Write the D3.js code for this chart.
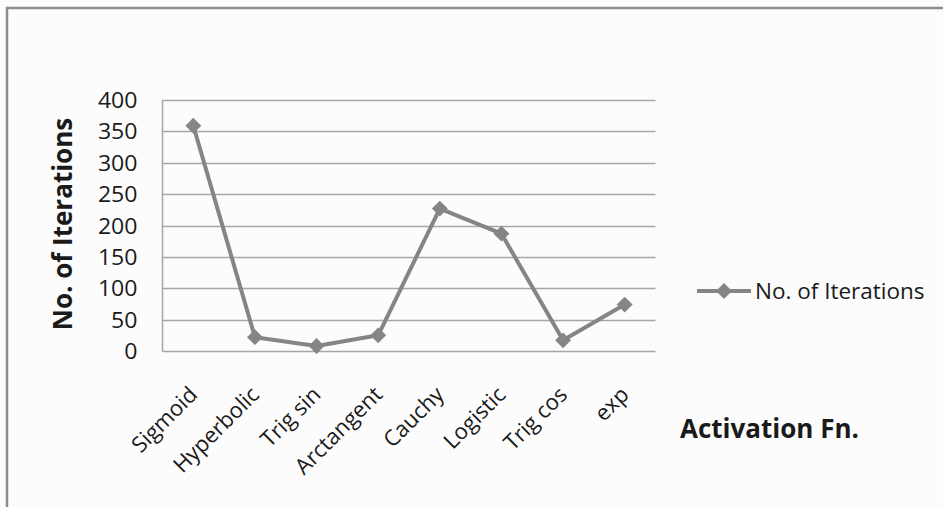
<!DOCTYPE html>
<html>
<head>
<meta charset="utf-8">
<script src="https://cdn.jsdelivr.net/npm/d3@7/dist/d3.min.js"></script>
<style>
  html, body { margin: 0; padding: 0; background: #fcfcfc; }
  svg { display: block; }
  text { font-family: "Open Sans", "Noto Sans", sans-serif; fill: #1a1a1a; }
</style>
</head>
<body>
<svg id="chart" width="943" height="507"></svg>
<script>
// Activation functions and the iterations each one needed
const categories = ["Sigmoid", "Hyperbolic", "Trig sin", "Arctangent", "Cauchy", "Logistic", "Trig cos", "exp"];
const iterations = [359, 22, 8, 25, 227, 187, 17, 74];
const yTicks = [0, 50, 100, 150, 200, 250, 300, 350, 400];
const seriesName = "No. of Iterations";
const yTitle = "No. of Iterations";
const xTitle = "Activation Fn.";

const svg = d3.select("#chart");
const W = 943, H = 507;
const plot = { left: 162.5, right: 655.5, top: 100, bottom: 351 };

svg.append("rect").attr("width", W).attr("height", H).attr("fill", "#fcfcfc");

// outer frame (top and left edges)
svg.append("path")
  .attr("d", `M7,${H} V8 H${W}`)
  .attr("fill", "none").attr("stroke", "#8c8c8c").attr("stroke-width", 2.5);

const x = d3.scalePoint().domain(categories).range([plot.left, plot.right]).padding(0.5);
const y = d3.scaleLinear().domain([0, 400]).range([plot.bottom, plot.top]);

// horizontal gridlines
svg.append("g").selectAll("line").data(yTicks).join("line")
  .attr("x1", plot.left).attr("x2", plot.right)
  .attr("y1", d => Math.round(y(d)) + 0.5).attr("y2", d => Math.round(y(d)) + 0.5)
  .attr("stroke", "#a6a6a6").attr("stroke-width", 1.5);

// left axis line
svg.append("line")
  .attr("x1", plot.left).attr("x2", plot.left)
  .attr("y1", plot.top).attr("y2", plot.bottom + 0.5)
  .attr("stroke", "#a6a6a6").attr("stroke-width", 1.5);

// y tick labels
const yAxis = d3.axisLeft(y).tickValues(yTicks).tickSize(0);
const gy = svg.append("g").attr("transform", `translate(${plot.left},0)`).call(yAxis);
gy.select(".domain").remove();
gy.selectAll("text")
  .attr("font-family", "Open Sans").attr("font-size", 21).attr("fill", "#1a1a1a")
  .attr("x", 0).attr("dy", "0.36em")
  .attr("transform", "translate(-25,0) scale(1.1,1)");

// x tick labels, rotated
const xAxis = d3.axisBottom(x).tickSize(0).tickPadding(0);
const gx = svg.append("g").attr("transform", `translate(0,${plot.bottom})`).call(xAxis);
gx.select(".domain").remove();
gx.selectAll("text")
  .attr("font-family", "Open Sans").attr("font-size", 22).attr("fill", "#1a1a1a")
  .attr("text-anchor", "end")
  .attr("dy", null).attr("y", null)
  .attr("transform", "translate(5,45) rotate(-45)");

// series line
const line = d3.line().x((d, i) => x(categories[i])).y(d => y(d));
svg.append("path").datum(iterations)
  .attr("d", line).attr("fill", "none")
  .attr("stroke", "#858585").attr("stroke-width", 4).attr("stroke-linejoin", "round");

// diamond markers
const diamond = d3.symbol().type(d3.symbolDiamond2).size(160);
svg.append("g").selectAll("path").data(iterations).join("path")
  .attr("d", diamond)
  .attr("transform", (d, i) => `translate(${x(categories[i])},${y(d)})`)
  .attr("fill", "#858585");

// axis titles
svg.append("text")
  .attr("transform", `translate(72,224) rotate(-90)`)
  .attr("text-anchor", "middle")
  .attr("font-size", 26).attr("font-weight", "bold")
  .text(yTitle);

svg.append("text")
  .attr("x", 680).attr("y", 438)
  .attr("font-size", 26).attr("font-weight", "bold")
  .text(xTitle);

// legend
const lg = svg.append("g").attr("transform", "translate(697,291)");
lg.append("line").attr("x1", 0).attr("x2", 54).attr("y1", 0).attr("y2", 0)
  .attr("stroke", "#858585").attr("stroke-width", 4);
lg.append("path").attr("d", diamond).attr("transform", "translate(27,0)").attr("fill", "#858585");
lg.append("text").attr("x", 58).attr("y", 0).attr("dy", "0.36em")
  .attr("font-size", 22.5).text(seriesName);
</script>
</body>
</html>
